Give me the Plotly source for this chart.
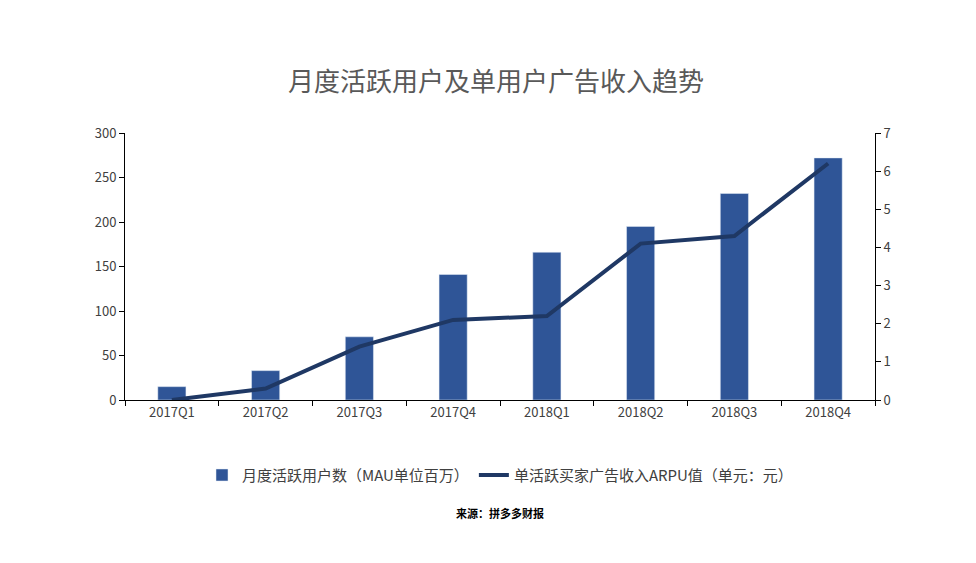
import plotly.graph_objects as go

quarters = ["2017Q1", "2017Q2", "2017Q3", "2017Q4", "2018Q1", "2018Q2", "2018Q3", "2018Q4"]
mau = [15, 33, 71, 141, 166, 195, 232, 272]
arpu = [0.0, 0.3, 1.4, 2.1, 2.2, 4.1, 4.3, 6.2]

font = "Noto Sans CJK SC"
fig = go.Figure()
fig.add_trace(go.Bar(x=quarters, y=mau, name="月度活跃用户数（MAU单位百万）",
                     marker_color="#2f5597", width=0.3))
fig.add_trace(go.Scatter(x=quarters, y=arpu, name="单活跃买家广告收入ARPU值（单元：元）",
                         mode="lines", line=dict(color="#1f3864", width=4), yaxis="y2"))

fig.update_layout(
    width=976, height=563, paper_bgcolor="white", plot_bgcolor="white",
    font=dict(family=font, size=13, color="#404040"),
    title=dict(text="月度活跃用户及单用户广告收入趋势", x=0.5, y=0.885, xanchor="center",
               font=dict(size=26, color="#595959")),
    margin=dict(l=117, r=109, t=125, b=171),
    xaxis=dict(showline=True, linecolor="black", ticks="outside", tickson="boundaries",
               ticklen=5, tickcolor="black", showgrid=False),
    yaxis=dict(range=[0, 300], dtick=50, showline=True, linecolor="black", ticks="outside",
               ticklen=5, tickcolor="black", showgrid=False, zeroline=False),
    yaxis2=dict(range=[0, 7], dtick=1, overlaying="y", side="right", showline=True,
                linecolor="black", ticks="outside", ticklen=5, tickcolor="black",
                showgrid=False, zeroline=False),
    legend=dict(orientation="h", x=0.5, xanchor="center", y=-0.22, yanchor="top",
                font=dict(size=15), traceorder="normal"),
    annotations=[dict(text="<b>来源：拼多多财报</b>", x=0.5, y=-0.46, xref="paper", yref="paper",
                      showarrow=False, font=dict(size=11, color="black"))],
)
fig.write_html("out.html")
